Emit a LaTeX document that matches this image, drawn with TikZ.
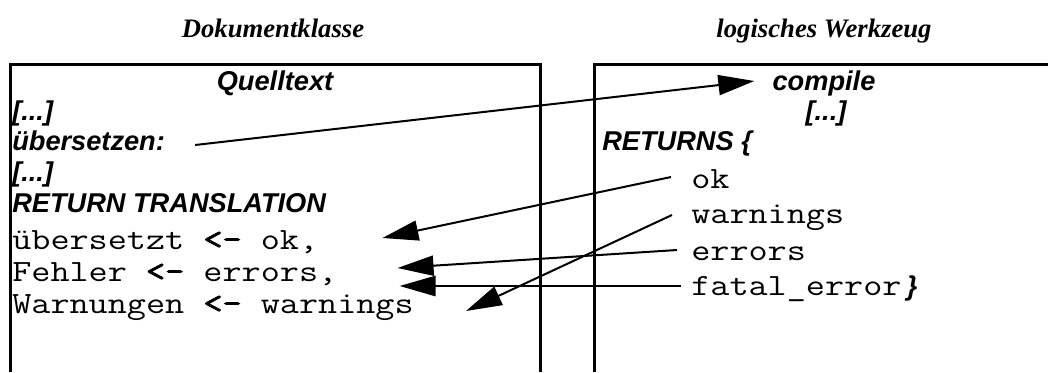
\documentclass[tikz,border=0pt]{standalone}
\usepackage{fontspec}
\setmainfont{Liberation Serif}
\setsansfont{Liberation Sans}
\setmonofont{Latin Modern Mono}[FakeStretch=1.2,BoldFont=Latin Modern Mono,BoldFeatures={FakeBold=2.5}]
\usetikzlibrary{calc,arrows.meta}

\begin{document}
\begin{tikzpicture}[x=0.75pt,y=-0.75pt,
  heading/.style={font=\fontsize{20}{22}\selectfont\bfseries\itshape,inner sep=0pt,anchor=base},
  keyword/.style={font=\sffamily\fontsize{20.4}{22}\selectfont\bfseries\itshape,inner sep=0pt,anchor=base west},
  code/.style={font=\ttfamily\fontsize{23.2}{25}\selectfont,inner sep=0pt,anchor=base west},
  frame/.style={line width=2.25pt},
  arr/.style={-{Triangle[length=27pt,width=15pt]},line width=1.5pt}
]
  \useasboundingbox (0,0) rectangle (1048,372);
  \node[heading] (klasse) at (273,37) {Dokumentklasse};
  \node[heading] (werkzeug) at (824,37) {logisches Werkzeug};
  \draw[frame] (10,372) -- (10,64) -- (540,64) -- (540,372);
  \draw[frame] (594,372) -- (594,64) -- (1048,64);
  \node[keyword,anchor=base] (quelltext) at (275,90) {Quelltext};
  \node[keyword] (dotsA) at (12,120) {[...]};
  \node[keyword] (uebersetzen) at (12,150) {übersetzen:};
  \node[keyword] (dotsB) at (12,181) {[...]};
  \node[keyword] (translation) at (12,212) {RETURN TRANSLATION};
  \node[code] (uebersetzt) at (12,249) {übersetzt \textbf{<-} ok,};
  \node[code] (fehler) at (12,281) {Fehler \textbf{<-} errors,};
  \node[code] (warnungen) at (12,313) {Warnungen \textbf{<-} warnings};
  \node[keyword,anchor=base] (compile) at (824,90) {compile};
  \node[keyword,anchor=base] (dotsC) at (826,120) {[...]};
  \node[keyword] (returns) at (602,150) {RETURNS \{};
  \node[code] (ok) at (691,188) {ok};
  \node[code] (warnings) at (691,223) {warnings};
  \node[code] (errors) at (691,260) {errors};
  \node[code] (fatal) at (691,295) {fatal\_error\hspace{4pt}{\sffamily\bfseries\itshape\fontsize{20.4}{22}\selectfont\}}};
  \draw[arr] ($(uebersetzen.base east)+(30,-5)$) -- ($(compile.base west)+(-18,-9)$);
  \draw[arr] ($(ok.base west)+(-20,-11)$) -- ($(uebersetzt.base east)+(64,-11)$);
  \draw[arr] ($(warnings.base west)+(-19,-8)$) -- ($(warnungen.base east)+(52,-2)$);
  \draw[arr] ($(errors.base west)+(-14,-10)$) -- ($(fehler.base east)+(60,-13)$);
  \draw[arr,line width=2pt] ($(fatal.base west)+(-10,-9)$) -- ($(fehler.base east)+(62,5)$);
\end{tikzpicture}
\end{document}
